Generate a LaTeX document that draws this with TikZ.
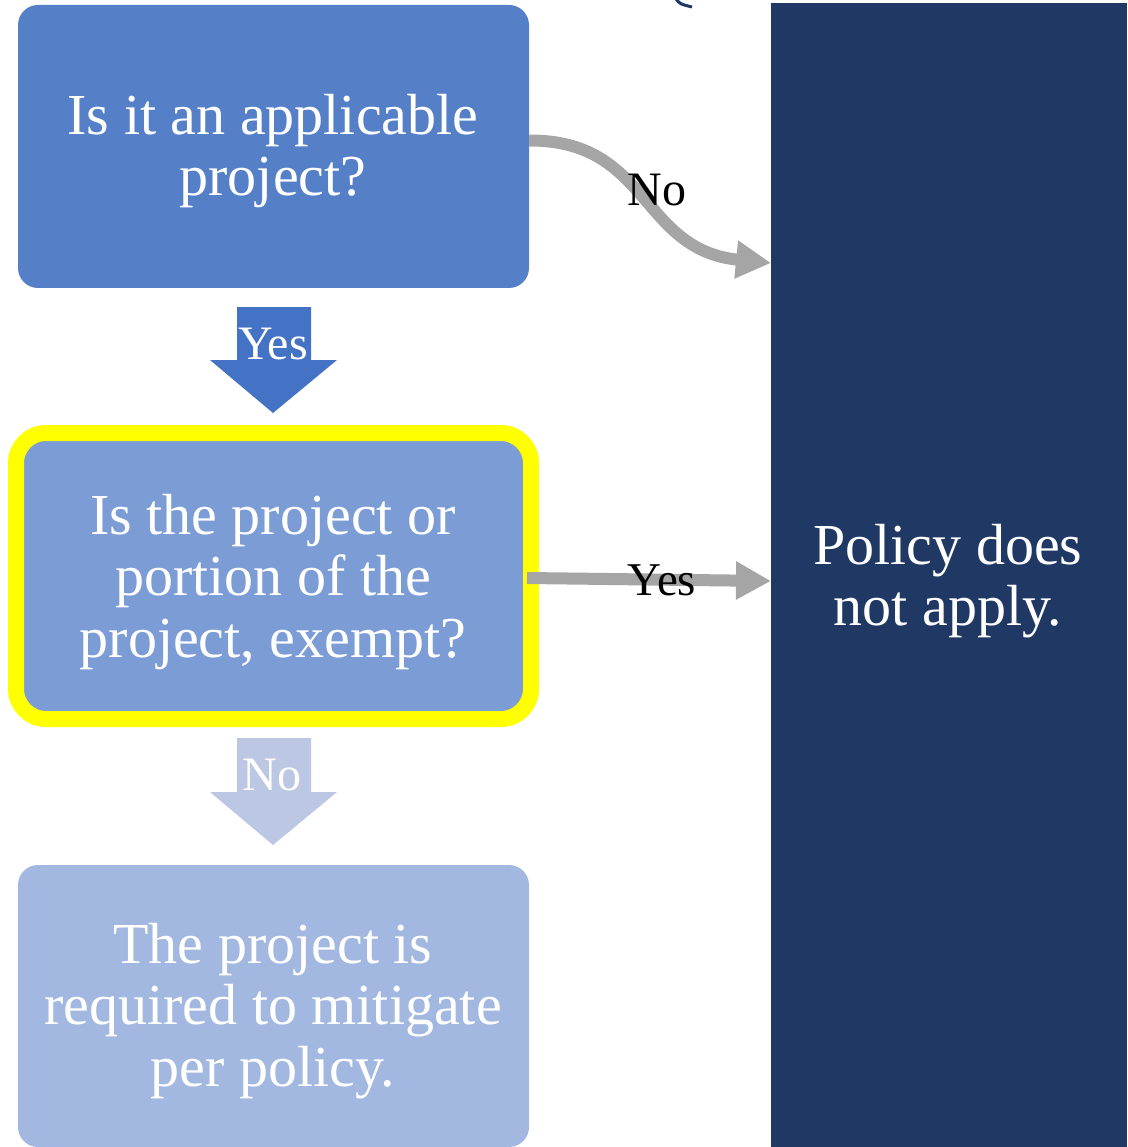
\documentclass[tikz,border=0pt]{standalone}
\usepackage{fontspec}
\setmainfont{Liberation Serif}
\usetikzlibrary{arrows.meta}
\definecolor{boxA}{RGB}{85,128,200}
\definecolor{boxB}{RGB}{123,156,213}
\definecolor{boxC}{RGB}{162,184,224}
\definecolor{arrYes}{RGB}{68,114,196}
\definecolor{arrNo}{RGB}{188,199,228}
\definecolor{grayarr}{RGB}{165,165,165}
\definecolor{navy}{RGB}{32,56,100}
\definecolor{hilite}{RGB}{255,255,0}
\begin{document}
\begin{tikzpicture}[x=1pt,y=-1pt,
  boxtext/.style={text=white, align=center, inner sep=0pt, font=\fontsize{58}{61.5}\selectfont},
  flowbox/.style={inner sep=0pt, rounded corners=20pt, minimum width=511pt, minimum height=283pt},
  lbl/.style={font=\fontsize{48}{52}\selectfont, inner sep=0pt},
  grayconn/.style={draw=grayarr, line width=12pt, -{Triangle[length=35pt,width=36pt]}}
]
\useasboundingbox (0,0) rectangle (1127,1147);
\fill[white] (0,0) rectangle (1127,1147);

% right panel
\node[fill=navy, inner sep=0pt, minimum width=356pt, minimum height=1144pt] (panel) at (949,575) {};
\node[boxtext] (paneltext) at (948,581) {Policy does\\not apply.};

% top small arc fragment
\draw[navy, line width=3pt] (676,-1) .. controls (680,4) .. (692,7);

% boxes
\node[flowbox, fill=boxA] (box1) at (273.5,146.5) {};
\node[boxtext] (box1text) at (273,151) {Is it an applicable\\project?};
\node[flowbox, fill=boxB, draw=hilite, line width=16pt, rounded corners=30pt, minimum width=515pt, minimum height=286pt] (box2) at (273.5,576) {};
\node[boxtext] (box2text) at (273,582) {Is the project or\\portion of the\\project, exempt?};
\node[flowbox, fill=boxC, minimum height=282pt] (box3) at (273.5,1006) {};
\node[boxtext] (box3text) at (273,1011) {The project is\\required to mitigate\\per policy.};

% block arrows
\fill[arrYes] (237,307) -- (311,307) -- (311,360) -- (337,360) -- (273,413) -- (210,360) -- (237,360) -- cycle;
\node[lbl, text=white] (yeslbl) at (273,344) {Yes};
\fill[arrNo] (237,738) -- (311,738) -- (311,792) -- (337,792) -- (273,845) -- (210,792) -- (237,792) -- cycle;
\node[lbl, text=white] (nolbl) at (272,775) {No};

% gray connectors
\coordinate (p1) at (771,263);
\coordinate (p2) at (771,581);
\draw[grayconn] ([yshift=6pt]box1.east) .. controls (650,140) and (640,250) .. (p1);
\node[lbl] (nolab) at (657,190) {No};
\draw[grayconn] ([xshift=-12pt,yshift=-2pt]box2.east) -- (p2);
\node[lbl, font=\fontsize{47}{52}\selectfont] (yeslab) at (662,580) {Yes};
\end{tikzpicture}
\end{document}
